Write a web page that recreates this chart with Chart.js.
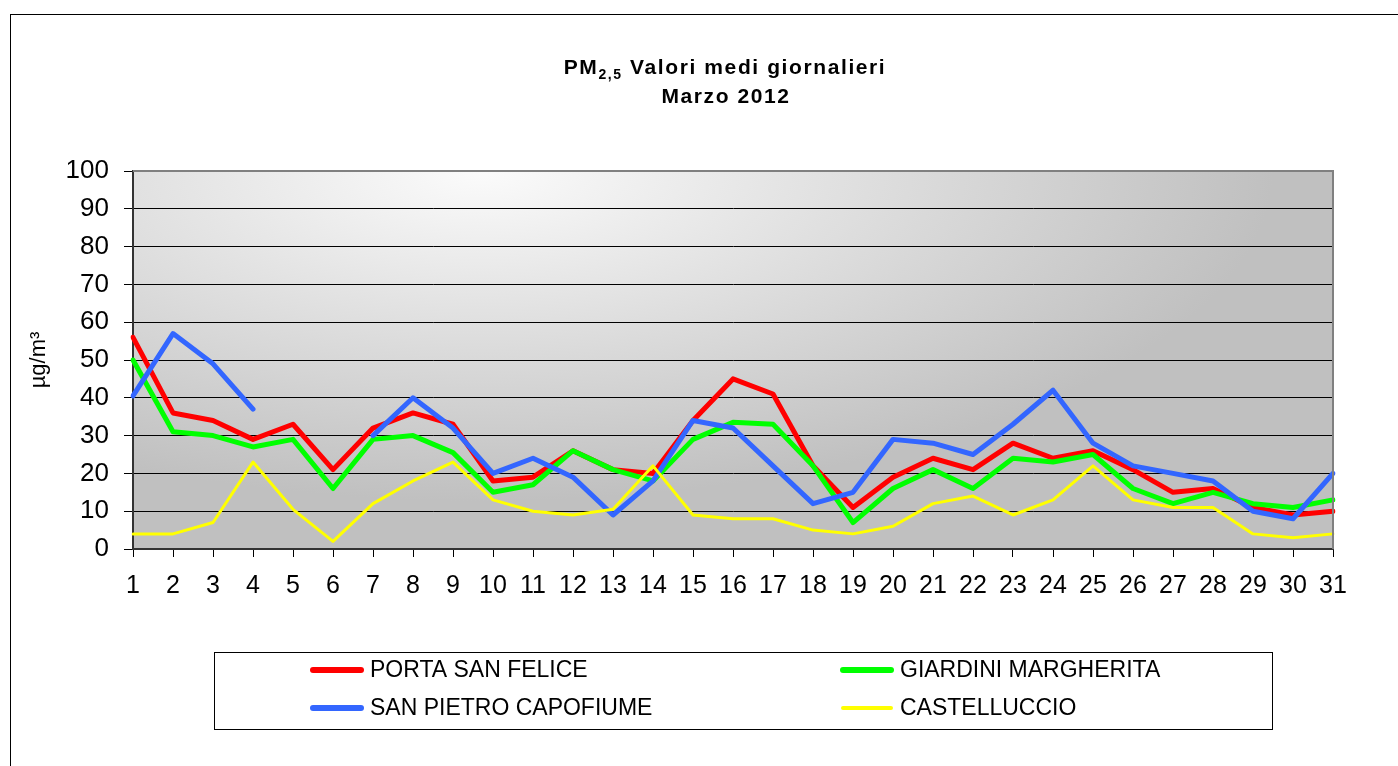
<!DOCTYPE html>
<html>
<head>
<meta charset="utf-8">
<title>PM2,5 Valori medi giornalieri - Marzo 2012</title>
<script src="https://cdn.jsdelivr.net/npm/chart.js@4.4.1/dist/chart.umd.min.js"></script>
<style>
  html, body { margin: 0; padding: 0; background: #fff; }
  #wrap { width: 1398px; height: 766px; position: relative; }
</style>
</head>
<body>
<div id="wrap"><canvas id="chart_pm25"></canvas></div>
<script>
// days of March 2012
const days = ['1','2','3','4','5','6','7','8','9','10','11','12','13','14','15','16',
              '17','18','19','20','21','22','23','24','25','26','27','28','29','30','31'];

const portaSanFelice = [56, 36, 34, 29, 33, 21, 32, 36, 33, 18, 19, 26, 21, 20, 34, 45,
                        41, 22, 11, 19, 24, 21, 28, 24, 26, 21, 15, 16, 11, 9, 10];
const giardiniMargherita = [50, 31, 30, 27, 29, 16, 29, 30, 25.5, 15, 17, 26, 21, 18, 29, 33.5,
                            33, 22, 7, 16, 21, 16, 24, 23, 25, 16, 12, 15, 12, 11, 13];
const sanPietroCapofiume = [40.5, 57, 49, 37, null, null, 30, 40, 32, 20, 24, 19, 9, 18, 34, 32,
                            22, 12, 15, 29, 28, 25, 33, 42, 28, 22, 20, 18, 10, 8, 20];
const castelluccio = [4, 4, 7, 23, 10.5, 2, 12, 18, 23, 13, 10, 9, 10.5, 22, 9, 8,
                      8, 5, 4, 6, 12, 14, 9, 13, 22, 13, 11, 11, 4, 3, 4];

const yTicks = [0, 10, 20, 30, 40, 50, 60, 70, 80, 90, 100];

const FONT = 'Liberation Sans, Arial, sans-serif';

// white page, outer frame and plot-area gradient
const backgroundPlugin = {
    id: 'background',
    beforeDraw(chart) {
        const ctx = chart.ctx;
        const a = chart.chartArea;
        ctx.save();
        ctx.fillStyle = '#fff';
        ctx.fillRect(0, 0, chart.width, chart.height);
        ctx.strokeStyle = '#000';
        ctx.lineWidth = 1;
        ctx.strokeRect(10.5, 14.5, chart.width + 20, chart.height + 20);

        // elliptical gradient, light near the top-left, grey elsewhere
        const cx = a.left + 0.29 * (a.right - a.left);
        const cy = a.top;
        const sx = 2.4;
        ctx.beginPath();
        ctx.rect(a.left, a.top, a.right - a.left, a.bottom - a.top);
        ctx.clip();
        ctx.translate(cx, cy);
        ctx.scale(sx, 1);
        const g = ctx.createRadialGradient(0, 0, 0, 0, 0, 330);
        g.addColorStop(0, '#fbfbfb');
        g.addColorStop(1, '#c0c0c0');
        ctx.fillStyle = g;
        ctx.fillRect(-2000, -1000, 4000, 3000);
        ctx.restore();
    },
    afterDatasetsDraw(chart) {
        const ctx = chart.ctx;
        const a = chart.chartArea;
        ctx.save();
        ctx.strokeStyle = '#808080';
        ctx.lineWidth = 2;
        ctx.beginPath();
        ctx.moveTo(a.left, a.top);
        ctx.lineTo(a.right, a.top);
        ctx.lineTo(a.right, a.bottom);
        ctx.stroke();
        ctx.restore();
    }
};

// two-line title with the subscript in PM2,5
const titlePlugin = {
    id: 'pmTitle',
    afterDraw(chart) {
        const ctx = chart.ctx;
        ctx.save();
        ctx.fillStyle = '#000';
        ctx.textBaseline = 'alphabetic';
        ctx.textAlign = 'left';
        if ('letterSpacing' in ctx) ctx.letterSpacing = '1.6px';
        const big = 'bold 21px ' + FONT;
        const small = 'bold 14px ' + FONT;
        const parts = [['PM', big, 0], ['2,5', small, 5], [' Valori medi giornalieri', big, 0]];
        let total = 0;
        parts.forEach(p => { ctx.font = p[1]; total += ctx.measureText(p[0]).width; });
        let x = 725 - total / 2;
        parts.forEach(p => {
            ctx.font = p[1];
            ctx.fillText(p[0], x, 74 + p[2]);
            x += ctx.measureText(p[0]).width;
        });
        ctx.font = big;
        ctx.textAlign = 'center';
        ctx.fillText('Marzo 2012', 726, 103);
        ctx.restore();
    }
};

// boxed legend with two columns
const legendPlugin = {
    id: 'boxLegend',
    afterDraw(chart) {
        const ctx = chart.ctx;
        ctx.save();
        ctx.fillStyle = '#fff';
        ctx.fillRect(214, 652, 1058, 77);
        ctx.strokeStyle = '#000';
        ctx.lineWidth = 1;
        ctx.strokeRect(214.5, 652.5, 1058, 77);
        const cols = [313, 843];
        const rows = [670, 708];
        ctx.font = '23px ' + FONT;
        ctx.textBaseline = 'middle';
        chart.data.datasets.forEach((ds, i) => {
            const x = cols[i % 2];
            const y = rows[Math.floor(i / 2)];
            ctx.strokeStyle = ds.borderColor;
            ctx.lineWidth = ds.borderWidth + 1;
            ctx.lineCap = 'round';
            ctx.beginPath();
            ctx.moveTo(x, y);
            ctx.lineTo(x + 48, y);
            ctx.stroke();
            ctx.fillStyle = '#000';
            ctx.fillText(ds.label, x + 57, y + 1);
        });
        ctx.restore();
    }
};

function makeSeries(label, data, color, width, order) {
    return {
        label: label,
        data: data,
        borderColor: color,
        backgroundColor: color,
        borderWidth: width,
        pointRadius: 0,
        pointHoverRadius: 0,
        tension: 0,
        spanGaps: false,
        borderJoinStyle: 'round',
        borderCapStyle: 'round',
        order: order
    };
}

function initialize() {
    const canvas = document.getElementById('chart_pm25');
    new Chart(canvas, {
        type: 'line',
        data: {
            labels: days,
            datasets: [
                makeSeries('PORTA SAN FELICE', portaSanFelice, '#ff0000', 5, 4),
                makeSeries('GIARDINI MARGHERITA', giardiniMargherita, '#00ff00', 5, 3),
                makeSeries('SAN PIETRO CAPOFIUME', sanPietroCapofiume, '#3366ff', 5, 2),
                makeSeries('CASTELLUCCIO', castelluccio, '#ffff00', 3, 1)
            ]
        },
        options: {
            responsive: false,
            animation: false,
            devicePixelRatio: 1,
            layout: { padding: { top: 171, right: 65, left: 0, bottom: 0 } },
            plugins: {
                legend: { display: false },
                title: { display: false },
                tooltip: { enabled: false }
            },
            scales: {
                x: {
                    offset: false,
                    grid: {
                        drawOnChartArea: false,
                        drawTicks: true,
                        tickLength: 8,
                        tickColor: '#000',
                        lineWidth: 1
                    },
                    border: { display: true, color: '#333', width: 2 },
                    ticks: {
                        autoSkip: false,
                        maxRotation: 0,
                        color: '#000',
                        padding: 14,
                        font: { family: FONT, size: 25 }
                    },
                    afterFit(scale) { scale.height = 217; }
                },
                y: {
                    min: 0,
                    max: 100,
                    afterBuildTicks(scale) { scale.ticks = yTicks.map(v => ({ value: v })); },
                    grid: {
                        color: '#000',
                        lineWidth: 1,
                        drawTicks: true,
                        tickLength: 9,
                        tickColor: '#000'
                    },
                    border: { display: true, color: '#333', width: 2 },
                    ticks: {
                        color: '#000',
                        padding: 15,
                        font: { family: FONT, size: 26 }
                    },
                    title: {
                        display: true,
                        text: 'µg/m³',
                        color: '#000',
                        font: { family: FONT, size: 22 },
                        padding: { top: 26, bottom: 0 }
                    },
                    afterFit(scale) { scale.width = 133; }
                }
            }
        },
        plugins: [backgroundPlugin, titlePlugin, legendPlugin]
    });
    canvas.style.width = '1398px';
    canvas.style.height = '766px';
}

document.getElementById('chart_pm25').width = 1398;
document.getElementById('chart_pm25').height = 766;
window.onload = initialize;
</script>
</body>
</html>
